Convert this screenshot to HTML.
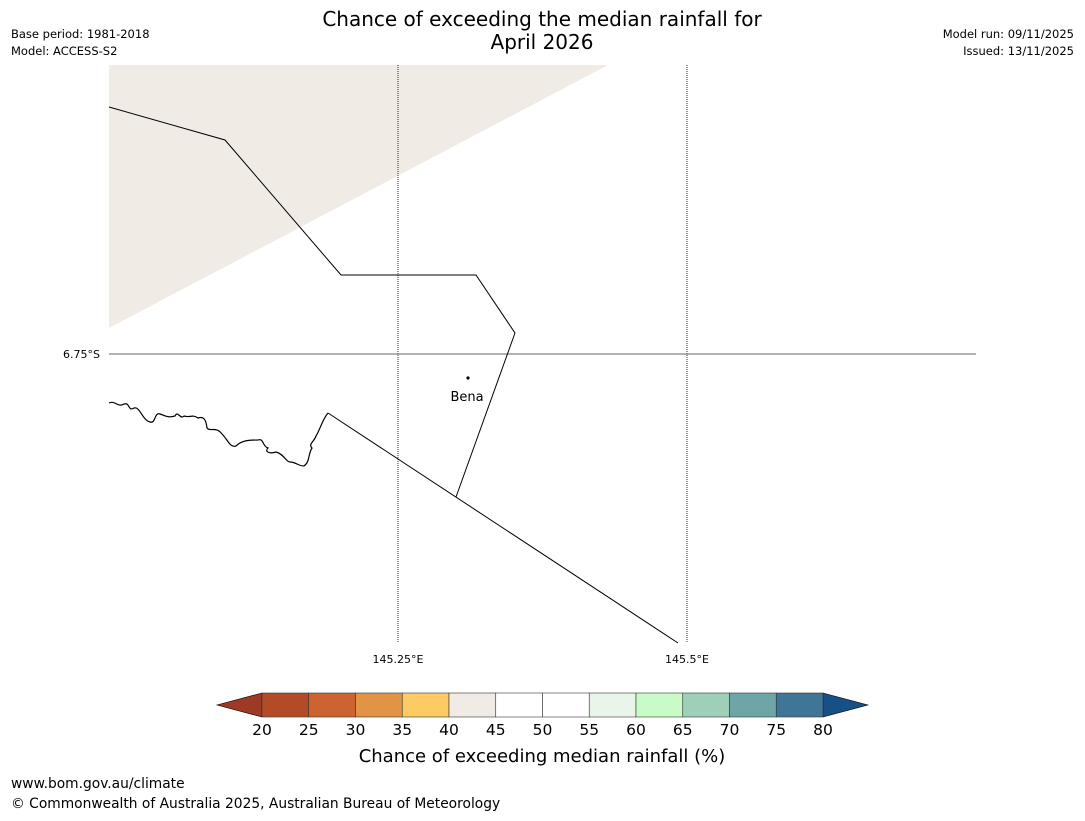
<!DOCTYPE html>
<html><head><meta charset="utf-8"><style>
body{margin:0;background:#fff;font-family:"Liberation Sans","DejaVu Sans",sans-serif;}
svg text{font-family:"DejaVu Sans","Liberation Sans",sans-serif;}
</style></head><body>
<svg id="c" width="1085" height="816" xmlns="http://www.w3.org/2000/svg">
<text x="542" y="26" font-size="20" text-anchor="middle">Chance of exceeding the median rainfall for</text>
<text x="542" y="49" font-size="20" text-anchor="middle">April 2026</text>
<text x="11" y="38" font-size="11.5">Base period: 1981-2018</text>
<text x="11" y="55" font-size="11.5">Model: ACCESS-S2</text>
<text x="1074" y="38" font-size="11.5" text-anchor="end">Model run: 09/11/2025</text>
<text x="1074" y="55" font-size="11.5" text-anchor="end">Issued: 13/11/2025</text>
<g>
<polygon points="109,65 608,65 109,328" fill="#f0ebe4"/>
<line x1="398" y1="65" x2="398" y2="643" stroke="#000" stroke-width="0.8" stroke-dasharray="1,1"/>
<line x1="687" y1="65" x2="687" y2="643" stroke="#000" stroke-width="0.8" stroke-dasharray="1,1"/>
<line x1="109" y1="354" x2="976" y2="354" stroke="#666" stroke-width="1"/>
<polyline points="109,107 225,140 341,275 476,275 515,333 456,497" fill="none" stroke="#000" stroke-width="1"/>
<polyline points="328,413 678,643" fill="none" stroke="#000" stroke-width="1"/>
<path d="M109,403 C115,400 118,408 124,404 C130,402 128,412 134,408 C140,406 142,420 150,422 C156,424 154,412 160,414 C166,416 168,418 175,416 C178,410 180,420 184,416 C190,418 192,414 198,418 C204,416 206,420 207,428 C210,432 216,426 222,434 C228,440 230,448 236,446 C242,440 250,440 258,440 C264,438 262,446 268,448 C264,452 270,454 276,452 C284,454 286,462 290,462 C296,462 298,466 304,466 C310,462 308,454 312,448 C308,444 314,442 316,436 C320,430 322,420 328,413" fill="none" stroke="#000" stroke-width="1.2"/>
<circle cx="468" cy="378" r="1.6" fill="#000"/>
<text x="467" y="401" font-size="13" text-anchor="middle">Bena</text>
<text x="100" y="358" font-size="11" text-anchor="end">6.75°S</text>
<text x="398" y="663" font-size="11" text-anchor="middle">145.25°E</text>
<text x="687" y="663" font-size="11" text-anchor="middle">145.5°E</text>
</g>
<g id="cb"></g>
<text x="542" y="762" font-size="18" text-anchor="middle">Chance of exceeding median rainfall (%)</text>
<text x="11" y="788" font-size="13.8">www.bom.gov.au/climate</text>
<text x="11" y="808" font-size="13.8">© Commonwealth of Australia 2025, Australian Bureau of Meteorology</text>
</svg>
<script>
const bounds=[20,25,30,35,40,45,50,55,60,65,70,75,80];
const colors=["#b34b27","#cc6331","#e29446","#fdca63","#f0ebe4","#ffffff","#ffffff","#eaf5e9","#c8fbc8","#9dcfb9","#6ea5a6","#3f7698"];
const extColors=["#9e3a24","#174f87"];
const NS="http://www.w3.org/2000/svg";
const g=document.getElementById('cb');
const x0=262,x1=823,y0=693,y1=717;
const sx=v=>x0+(v-bounds[0])/(bounds[bounds.length-1]-bounds[0])*(x1-x0);
function mk(t,a){const e=document.createElementNS(NS,t);for(const k in a)e.setAttribute(k,a[k]);g.appendChild(e);return e;}
let l=mk('polygon',{points:`${x0},${y0} 217,705 ${x0},${y1}`,fill:extColors[0],stroke:'#000','stroke-width':0.6});


let r=mk('polygon',{points:`${x1},${y0} 868,705 ${x1},${y1}`,fill:extColors[1],stroke:'#000','stroke-width':0.6});


for(let i=0;i<colors.length;i++){
  const a=sx(bounds[i]),b=sx(bounds[i+1]);
  const e=mk('rect',{x:a,y:y0,width:b-a,height:y1-y0,fill:colors[i],stroke:'#333','stroke-width':0.6});
  
  
}
for(const v of bounds){
  const t=mk('text',{x:sx(v),y:735,'font-size':15.5,'text-anchor':'middle'});
  t.textContent=v;
  
  
}
</script>
</body></html>
